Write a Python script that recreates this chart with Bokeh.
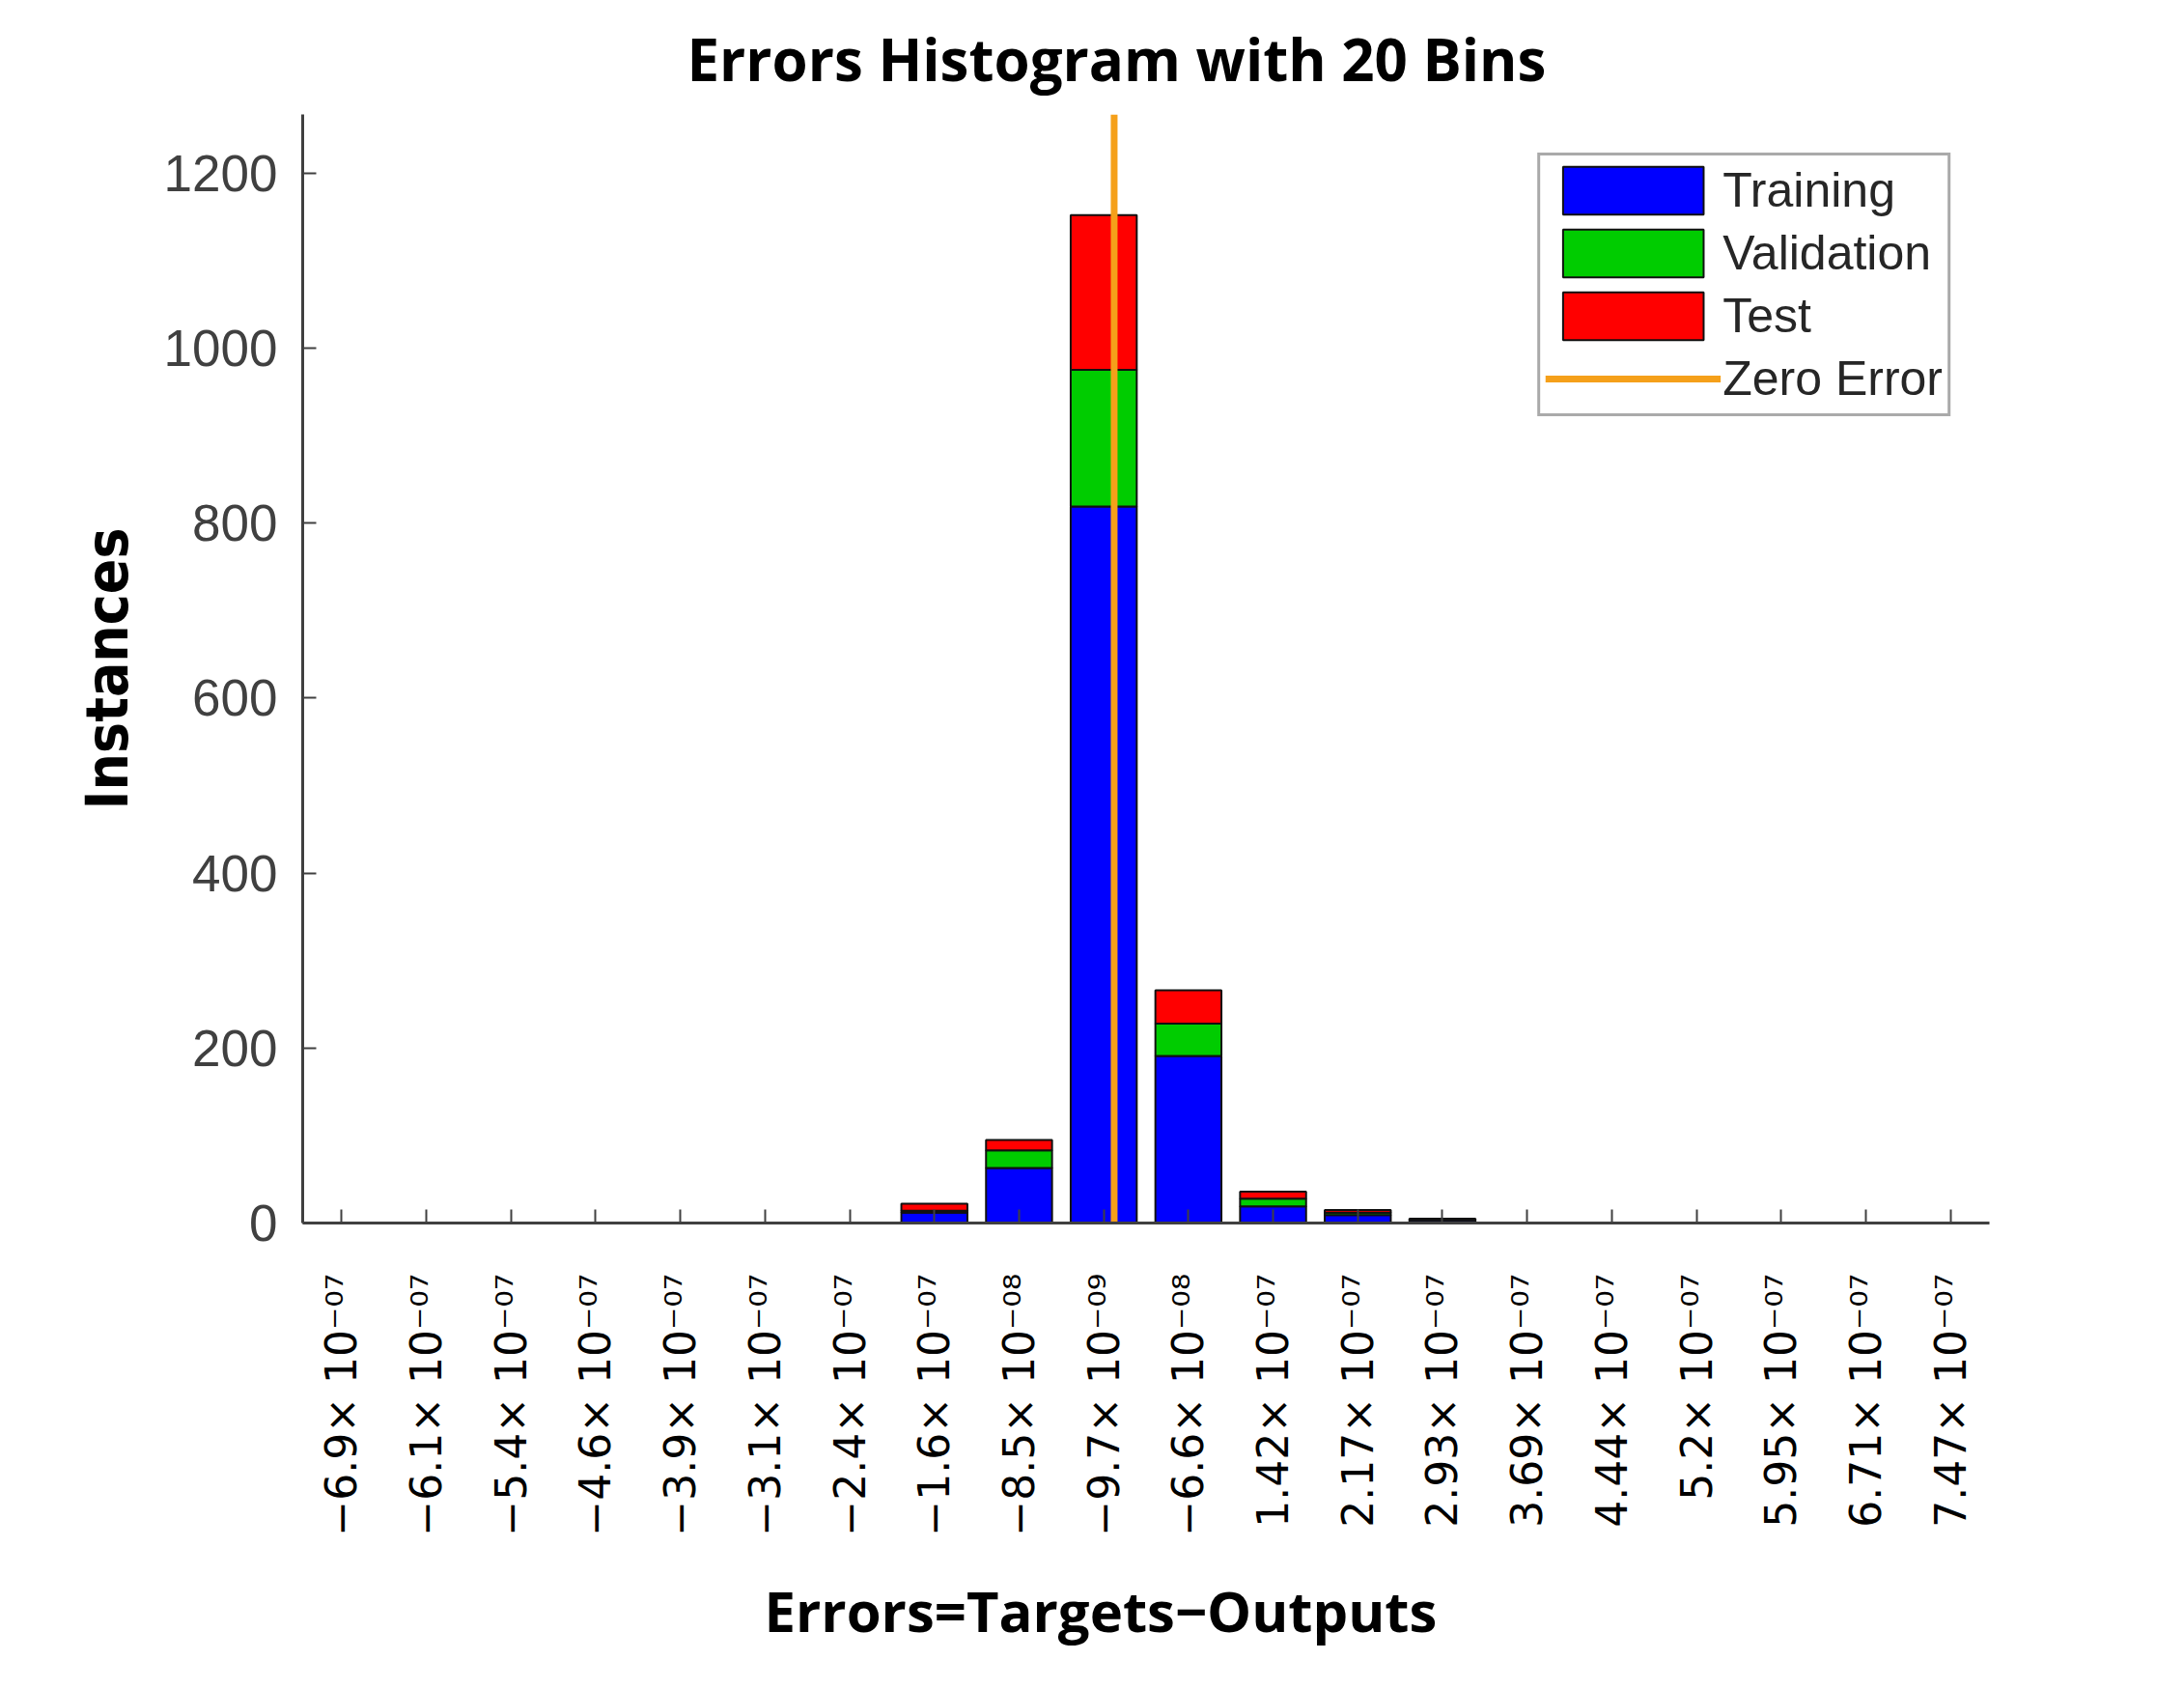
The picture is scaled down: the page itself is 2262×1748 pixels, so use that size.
import numpy as np
from bokeh.plotting import figure
from bokeh.models import ColumnDataSource, FixedTicker, Range1d, Title
from bokeh.embed import file_html
from bokeh.resources import INLINE

# ---- data ----
tick_labels = ["−6.9× 10⁻⁰⁷", "−6.1× 10⁻⁰⁷", "−5.4× 10⁻⁰⁷", "−4.6× 10⁻⁰⁷",
               "−3.9× 10⁻⁰⁷", "−3.1× 10⁻⁰⁷", "−2.4× 10⁻⁰⁷", "−1.6× 10⁻⁰⁷",
               "−8.5× 10⁻⁰⁸", "−9.7× 10⁻⁰⁹", "−6.6× 10⁻⁰⁸", "1.42× 10⁻⁰⁷",
               "2.17× 10⁻⁰⁷", "2.93× 10⁻⁰⁷", "3.69× 10⁻⁰⁷", "4.44× 10⁻⁰⁷",
               "5.2× 10⁻⁰⁷", "5.95× 10⁻⁰⁷", "6.71× 10⁻⁰⁷", "7.47× 10⁻⁰⁷"]
first_center = -6.9e-07
last_center = 7.47e-07
training   = [0, 0, 0, 0, 0, 0, 0, 12, 63, 819, 191, 19, 9, 3, 0, 0, 0, 0, 0, 0]
validation = [0, 0, 0, 0, 0, 0, 0, 2, 20, 156, 37, 9, 3, 1, 0, 0, 0, 0, 0, 0]
test       = [0, 0, 0, 0, 0, 0, 0, 8, 12, 177, 38, 8, 3, 1, 0, 0, 0, 0, 0, 0]
y_ticks = [0, 200, 400, 600, 800, 1000, 1200]
y_max = 1267

n = len(tick_labels)
idx = list(range(n))
bin_width = (last_center - first_center) / (n - 1)
zero_pos = (0.0 - first_center) / bin_width

src = ColumnDataSource(dict(x=idx, Training=training, Validation=validation, Test=test))

p = figure(width=2246, height=1744, output_backend="svg", toolbar_location=None,
           x_range=Range1d(-0.46, n - 1 + 0.46), y_range=Range1d(0, y_max),
           min_border_left=313, min_border_right=186, min_border_top=118,
           min_border_bottom=478)
p.outline_line_color = None
p.xgrid.visible = False
p.ygrid.visible = False

p.vbar_stack(["Training", "Validation", "Test"], x="x", width=0.78, source=src,
             fill_color=["#0000ff", "#00cc00", "#ff0000"], line_color="#111111",
             line_width=2, legend_label=["Training", "Validation", "Test"])
p.line(x=[zero_pos, zero_pos], y=[0, y_max], line_color="#f5a01a", line_width=7,
       legend_label="Zero Error")

# title
p.title.text = "Errors Histogram with 20 Bins"
p.title.text_font = "Open Sans"
p.title.text_font_style = "bold"
p.title.text_font_size = "60px"
p.title.text_color = "black"
p.title.align = "left"
p.title.offset = 398
p.title.standoff = 33

# x axis
xa = p.xaxis[0]
xa.ticker = FixedTicker(ticks=idx)
xa.major_label_overrides = {i: lab for i, lab in zip(idx, tick_labels)}
xa.major_label_orientation = np.pi / 2
xa.major_label_text_font = "DejaVu Sans"
xa.major_label_text_font_size = "44px"
xa.major_label_text_color = "black"
xa.major_label_standoff = 52
xa.major_tick_in = 14
xa.major_tick_out = 0
xa.minor_tick_in = 0
xa.minor_tick_out = 0
xa.axis_line_color = "#404040"
xa.axis_line_width = 3
xa.major_tick_line_color = "#404040"
xa.major_tick_line_width = 2

xlabel = Title(text="Errors=Targets−Outputs", align="left", offset=478,
               text_font="Open Sans", text_font_style="bold",
               text_font_size="58px", text_color="black", standoff=64)
p.add_layout(xlabel, "below")

# y axis
ya = p.yaxis[0]
ya.ticker = FixedTicker(ticks=y_ticks)
ya.major_label_text_font = "Liberation Sans"
ya.major_label_text_font_size = "53px"
ya.major_label_text_color = "#404040"
ya.major_label_standoff = 26
ya.major_tick_in = 14
ya.major_tick_out = 0
ya.minor_tick_in = 0
ya.minor_tick_out = 0
ya.axis_line_color = "#404040"
ya.axis_line_width = 3
ya.major_tick_line_color = "#404040"
ya.major_tick_line_width = 2
ya.axis_label = "Instances"
ya.axis_label_text_font = "DejaVu Sans Condensed"
ya.axis_label_text_font_style = "bold"
ya.axis_label_text_font_size = "60px"
ya.axis_label_text_color = "black"
ya.axis_label_standoff = 21

# legend
lg = p.legend[0]
lg.location = "top_right"
lg.margin = 40
lg.padding = 5
lg.spacing = 3
lg.glyph_width = 182
lg.glyph_height = 62
lg.label_standoff = 2
lg.label_text_font = "Liberation Sans"
lg.label_text_font_size = "50px"
lg.label_text_color = "#262626"
lg.border_line_color = "#555555"
lg.border_line_width = 3
lg.background_fill_color = "white"
lg.background_fill_alpha = 1.0

open("out.html", "w").write(file_html(p, INLINE))
